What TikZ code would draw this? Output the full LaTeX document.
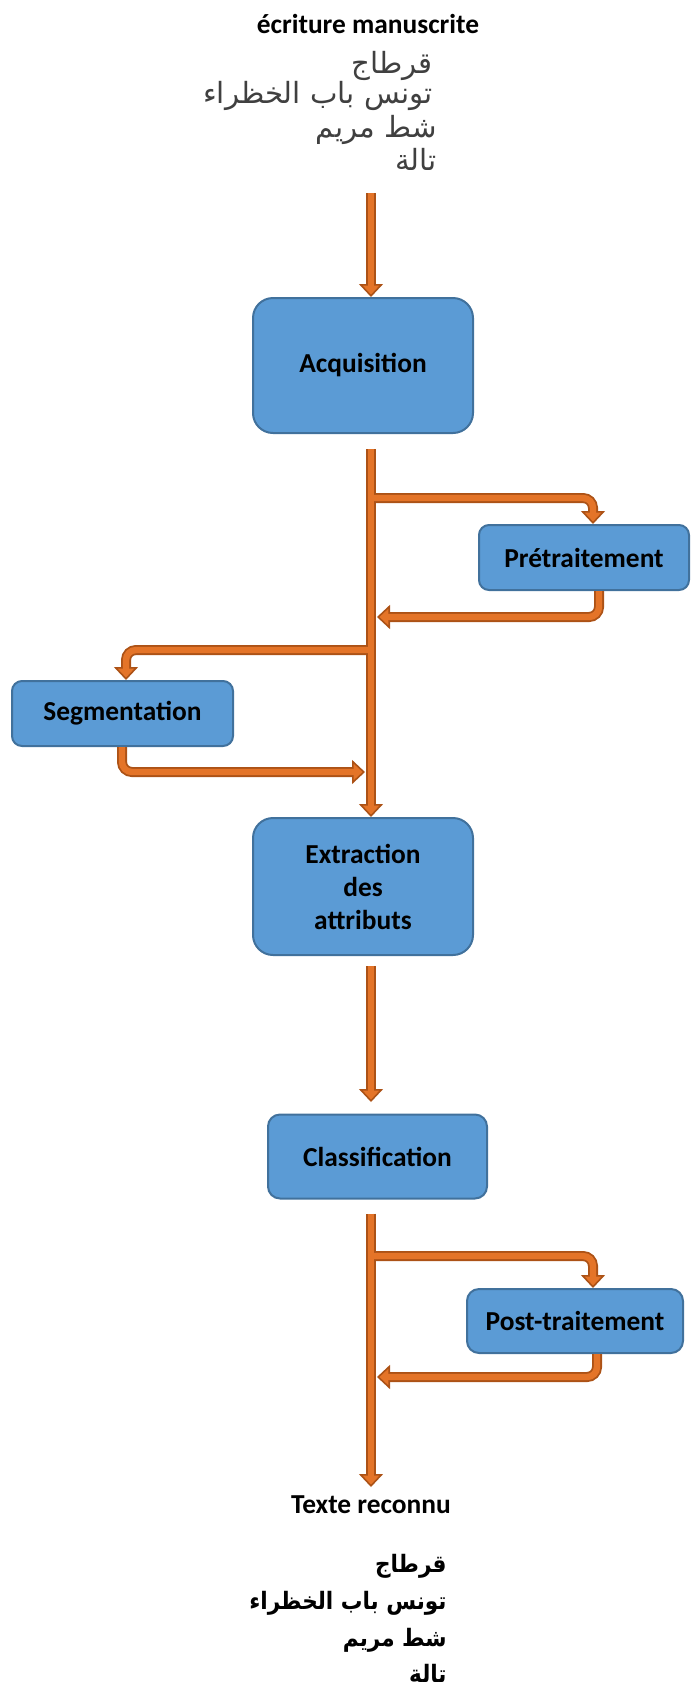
\documentclass[tikz,border=0pt]{standalone}
\usepackage{fontspec}
\setmainfont{Carlito}
\newfontfamily\arabicfont[Script=Arabic]{DejaVu Sans}
\newfontfamily\arabicnarrow[Script=Arabic, FakeStretch=0.9]{DejaVu Sans}
\TeXXeTstate=1
\usetikzlibrary{arrows.meta}

\definecolor{boxfill}{RGB}{91,155,213}
\definecolor{boxedge}{RGB}{65,113,156}
\definecolor{pipefill}{RGB}{228,116,40}
\definecolor{pipeedge}{RGB}{172,82,22}

\tikzset{
  stage/.style={draw=boxedge, line width=1pt, fill=boxfill,
    font=\bfseries\fontsize{13.7}{16.5}\selectfont, align=center, inner sep=0pt},
  caption/.style={font=\bfseries\fontsize{13.7}{16.5}\selectfont, inner sep=0pt},
  pipeout/.style={draw=pipeedge, line width=5pt, rounded corners=5pt,
    -{Triangle[width=12pt,length=6.5pt,fill=pipefill,line width=0.8pt]}},
  pipein/.style={draw=pipefill, line width=3.2pt, rounded corners=5pt, shorten >=5.5pt},
  hand/.style={font=\arabicfont\fontsize{14.6}{17}\selectfont, text=black!75,
    inner sep=0pt, anchor=base east},
  typed/.style={font=\arabicnarrow\bfseries\fontsize{12}{14}\selectfont,
    inner sep=0pt, anchor=base east},
}

% the whole network of orange pipes, drawn once per layer
\newcommand\pipenet[1]{%
  \draw[#1] (in) -- (in |- acq.north);
  \draw[#1] ([yshift=-7.5pt]acq.south -| in) -- (ext.north -| in);
  \draw[#1] (j1) -| ([xshift=4.5pt]pre.north);
  \draw[#1] ([xshift=7.5pt]pre.south) |- (r1);
  \draw[#1] (j2) -| ([xshift=1.75pt]seg.north);
  \draw[#1] ([xshift=-0.25pt]seg.south) |- (r2);
  \draw[#1] ([yshift=-5pt]ext.south -| in) -- ([yshift=5.75pt]cls.north -| in);
  \draw[#1] ([yshift=-7pt]cls.south -| in) -- (outtip);
  \draw[#1] (j3) -| ([xshift=9pt]post.north);
  \draw[#1] ([xshift=11pt]post.south) |- (r3);
}

\begin{document}
\begin{tikzpicture}[x=0.5pt, y=-0.5pt]
  \useasboundingbox (0,0) rectangle (691,1688);

  % input: handwritten words
  \node[caption] (title) at (368,24) {écriture manuscrite};
  \node[hand] (h1) at (433,73)  {\beginR قرطاج\endR};
  \node[hand] (h2) at (433,103) {\beginR تونس باب الخظراء\endR};
  \node[hand] (h3) at (437,137) {\beginR شط مريم\endR};
  \node[hand] (h4) at (437,170) {\beginR تالة\endR};

  % processing stages
  \node[stage, rounded corners=10pt, minimum width=110pt, minimum height=67.5pt]
    (acq) at (363,365.5) {Acquisition};
  \node[stage, rounded corners=5pt, minimum width=105pt, minimum height=32.5pt,
        text height=12.6pt, text depth=2.8pt]
    (pre) at (584,557.5) {Prétraitement};
  \node[stage, rounded corners=5pt, minimum width=110.5pt, minimum height=32.5pt]
    (seg) at (122.5,713.5) {Segmentation};
  \node[stage, rounded corners=10pt, minimum width=110pt, minimum height=68.5pt]
    (ext) at (363,886.5) {Extraction\\des\\attributs};
  \node[stage, rounded corners=6pt, minimum width=109.5pt, minimum height=42pt,
        text height=13pt, text depth=2.8pt]
    (cls) at (377.5,1156.5) {Classification};
  \node[stage, rounded corners=6pt, minimum width=108pt, minimum height=32pt]
    (post) at (575,1321) {Post-traitement};

  % output: recognised words
  \node[caption] (out) at (371,1505) {Texte reconnu};
  \node[typed] (p1) at (447,1572) {\beginR قرطاج\endR};
  \node[typed] (p2) at (447,1609) {\beginR تونس باب الخظراء\endR};
  \node[typed] (p3) at (447,1646) {\beginR شط مريم\endR};
  \node[typed] (p4) at (447,1682) {\beginR تالة\endR};

  % junctions and ends on the main trunk
  \coordinate (in) at (371,193);
  \coordinate (j1) at (371,498);
  \coordinate (r1) at (377,617);
  \coordinate (j2) at (371,650);
  \coordinate (r2) at (365,772);
  \coordinate (j3) at (371,1256);
  \coordinate (r3) at (377,1377);
  \coordinate (outtip) at (371,1487);

  \pipenet{pipeout}
  \pipenet{pipein}
\end{tikzpicture}
\end{document}
